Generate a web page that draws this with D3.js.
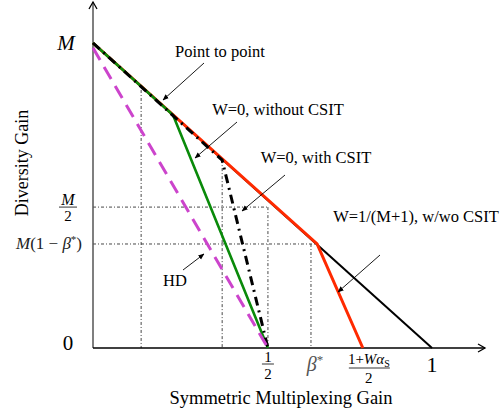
<!DOCTYPE html>
<html>
<head>
<meta charset="utf-8">
<script src="https://cdn.jsdelivr.net/npm/d3@7"></script>
<style>
  body { margin: 0; background: #fff; }
  text { font-family: "Liberation Serif", "DejaVu Serif", serif; fill: #000; }
  .math { font-style: italic; }
</style>
</head>
<body>
<svg id="chart" width="501" height="415"></svg>
<script>
// curves, in units of (multiplexing gain, diversity gain / M)
var pointToPoint = [[0, 1], [1, 0]];
var wOneCurve = [[0, 1], [0.661, 0.341], [0.796, 0]];
var withCsit = [[0, 1], [0.381, 0.616], [0.516, 0]];
var withoutCsit = [[0, 1], [0.236, 0.764], [0.516, 0]];
var hdCurve = [[0, 0.984], [0.516, 0]];

// dotted guide lines: verticals [x, yTop], horizontals [y, xRight]
var guideV = [[0.142, 0.846], [0.381, 0.616], [0.516, 0.462], [0.643, 0.341]];
var guideH = [[0.462, 0.516], [0.341, 0.661]];

// tick values
var yTicks = [1, 0.462, 0.341, 0];
var xTicks = [0.516, 0.643, 0.796, 1];

var svg = d3.select("#chart");
var width = 501, height = 415;

var x = d3.scaleLinear().domain([0, 1]).range([93, 432]);
var y = d3.scaleLinear().domain([0, 1]).range([348, 43]);

var line = d3.line().x(function (d) { return x(d[0]); }).y(function (d) { return y(d[1]); });

var defs = svg.append("defs");
defs.append("marker")
  .attr("id", "head")
  .attr("viewBox", "0 0 10 10")
  .attr("refX", 9).attr("refY", 5)
  .attr("markerWidth", 7).attr("markerHeight", 7)
  .attr("orient", "auto")
  .append("path").attr("d", "M0,1 L10,5 L0,9 Z").attr("fill", "#000");

// guides
var g = svg.append("g");
guideV.forEach(function (d) {
  g.append("line")
    .attr("x1", x(d[0])).attr("x2", x(d[0]))
    .attr("y1", y(d[1])).attr("y2", y(0))
    .attr("stroke", "#333").attr("stroke-width", 0.9)
    .attr("stroke-dasharray", "3,2,1,2");
});
guideH.forEach(function (d) {
  g.append("line")
    .attr("x1", x(0)).attr("x2", x(d[1]))
    .attr("y1", y(d[0])).attr("y2", y(d[0]))
    .attr("stroke", "#333").attr("stroke-width", 0.9)
    .attr("stroke-dasharray", "3,2,1,2");
});

// axes with arrow heads
svg.append("line")
  .attr("x1", x(0)).attr("x2", x(0)).attr("y1", y(0)).attr("y2", 2)
  .attr("stroke", "#555").attr("stroke-width", 1.5);
svg.append("path")
  .attr("d", "M" + (x(0) - 4) + ",9 L" + x(0) + ",2 L" + (x(0) + 4) + ",9")
  .attr("fill", "none").attr("stroke", "#000").attr("stroke-width", 1.3);
svg.append("line")
  .attr("x1", x(0)).attr("x2", 485).attr("y1", y(0)).attr("y2", y(0))
  .attr("stroke", "#000").attr("stroke-width", 1.5);
svg.append("path")
  .attr("d", "M478," + (y(0) - 4) + " L485," + y(0) + " L478," + (y(0) + 4))
  .attr("fill", "none").attr("stroke", "#000").attr("stroke-width", 1.3);

// curves
svg.append("path").datum(pointToPoint).attr("d", line)
  .attr("fill", "none").attr("stroke", "#000").attr("stroke-width", 2);
svg.append("path").datum(wOneCurve).attr("d", line)
  .attr("fill", "none").attr("stroke", "#ff2a00").attr("stroke-width", 3);
svg.append("path").datum(withoutCsit).attr("d", line)
  .attr("fill", "none").attr("stroke", "#0a8a0a").attr("stroke-width", 2.6);
svg.append("path").datum(withCsit).attr("d", line)
  .attr("fill", "none").attr("stroke", "#000").attr("stroke-width", 3)
  .attr("stroke-dasharray", "9,5,2,5");
svg.append("path").datum(hdCurve).attr("d", line)
  .attr("fill", "none").attr("stroke", "#cc44cc").attr("stroke-width", 3)
  .attr("stroke-dasharray", "14,8");

// y tick labels
svg.append("text").attr("class", "math").attr("x", 66).attr("y", y(yTicks[0]) + 7)
  .attr("text-anchor", "middle").style("font-size", "21px").text("M");
svg.append("text").attr("class", "math").attr("x", 68).attr("y", y(yTicks[1]) - 2)
  .attr("text-anchor", "middle").style("font-size", "16px").text("M");
svg.append("line").attr("x1", 59).attr("x2", 77).attr("y1", y(yTicks[1])).attr("y2", y(yTicks[1]))
  .attr("stroke", "#000").attr("stroke-width", 0.8);
svg.append("text").attr("x", 68).attr("y", y(yTicks[1]) + 14)
  .attr("text-anchor", "middle").style("font-size", "15px").text("2");
var t3 = svg.append("text").attr("x", 49).attr("y", y(yTicks[2]) + 5)
  .attr("text-anchor", "middle").style("font-size", "17px").style("fill", "#222");
t3.append("tspan").attr("class", "math").text("M");
t3.append("tspan").text("(1 \u2212 ");
t3.append("tspan").attr("class", "math").text("\u03b2");
t3.append("tspan").attr("dy", -6).style("font-size", "11px").text("*");
t3.append("tspan").attr("dy", 6).text(")");
svg.append("text").attr("x", 68).attr("y", y(yTicks[3]) + 2)
  .attr("text-anchor", "middle").style("font-size", "21px").text("0");

// x tick labels
svg.append("text").attr("x", x(xTicks[0])).attr("y", 362)
  .attr("text-anchor", "middle").style("font-size", "15px").text("1");
svg.append("line").attr("x1", x(xTicks[0]) - 6).attr("x2", x(xTicks[0]) + 6).attr("y1", 364).attr("y2", 364)
  .attr("stroke", "#000").attr("stroke-width", 0.8);
svg.append("text").attr("x", x(xTicks[0])).attr("y", 379)
  .attr("text-anchor", "middle").style("font-size", "15px").text("2");

var tb = svg.append("text").attr("x", x(xTicks[1]) + 4).attr("y", 371)
  .attr("text-anchor", "middle").style("font-size", "20px").style("fill", "#555");
tb.append("tspan").attr("class", "math").text("\u03b2");
tb.append("tspan").attr("dy", -7).style("font-size", "13px").text("*");

var tw = svg.append("text").attr("x", x(xTicks[2]) + 6).attr("y", 364)
  .attr("text-anchor", "middle").style("font-size", "15px");
tw.append("tspan").text("1+");
tw.append("tspan").attr("class", "math").text("W\u03b1");
tw.append("tspan").attr("dy", 3).style("font-size", "10px").text("S");
svg.append("line").attr("x1", x(xTicks[2]) - 14).attr("x2", x(xTicks[2]) + 27).attr("y1", 368).attr("y2", 368)
  .attr("stroke", "#000").attr("stroke-width", 0.8);
svg.append("text").attr("x", x(xTicks[2]) + 6).attr("y", 383)
  .attr("text-anchor", "middle").style("font-size", "15px").text("2");

svg.append("text").attr("x", x(xTicks[3])).attr("y", 372)
  .attr("text-anchor", "middle").style("font-size", "22px").text("1");

// axis titles
svg.append("text").attr("x", 281).attr("y", 404)
  .attr("text-anchor", "middle").style("font-size", "18.5px").text("Symmetric Multiplexing Gain");
svg.append("text").attr("transform", "translate(28,163) rotate(-90)")
  .attr("text-anchor", "middle").style("font-size", "18px").text("Diversity Gain");

// annotations
var notes = [
  { label: "Point to point", tx: 220, ty: 57, from: [204, 63], to: [163, 100] },
  { label: "W=0, without CSIT", tx: 278, ty: 115, from: [237, 122], to: [195, 158] },
  { label: "W=0, with CSIT", tx: 316, ty: 163, from: [285, 175], to: [242, 211] },
  { label: "W=1/(M+1), w/wo CSIT", tx: 416, ty: 222, from: [380, 255], to: [338, 292] },
  { label: "HD", tx: 175, ty: 286, from: [183, 270], to: [204, 254] }
];
notes.forEach(function (n) {
  svg.append("text").attr("x", n.tx).attr("y", n.ty)
    .attr("text-anchor", "middle").style("font-size", "16.5px").text(n.label);
  svg.append("line")
    .attr("x1", n.from[0]).attr("y1", n.from[1]).attr("x2", n.to[0]).attr("y2", n.to[1])
    .attr("stroke", "#000").attr("stroke-width", 0.9)
    .attr("marker-end", "url(#head)");
});
</script>
</body>
</html>
